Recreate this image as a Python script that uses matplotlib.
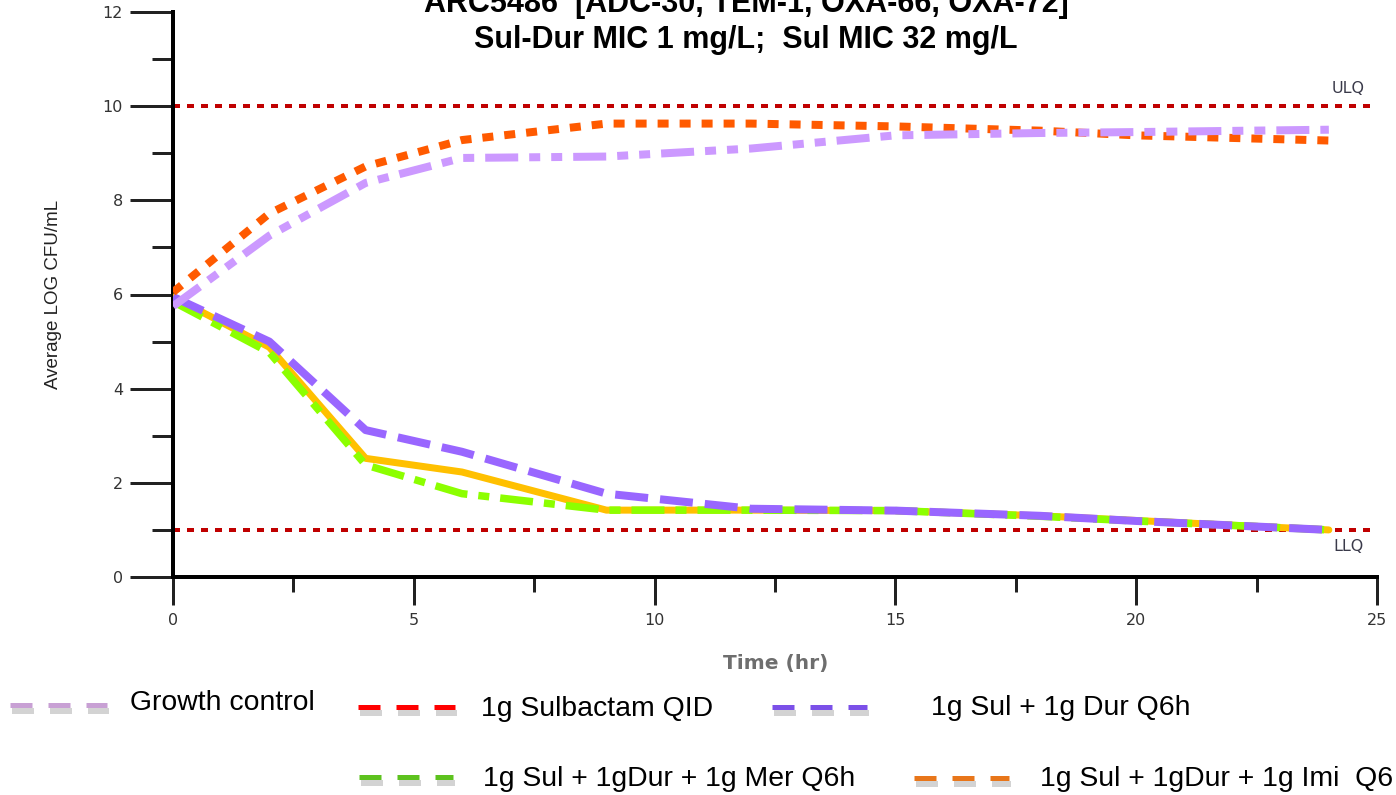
import matplotlib
matplotlib.use('Agg')
import matplotlib.pyplot as plt
from matplotlib.lines import Line2D
from matplotlib.ticker import MultipleLocator

plt.rcParams['lines.scale_dashes'] = False
plt.rcParams['font.family'] = ['Liberation Sans', 'DejaVu Sans']

# ---------------- data ----------------
time_hr = [0, 2, 4, 6, 9, 12, 15, 18, 20, 24]
growth_control = [5.75, 7.25, 8.37, 8.90, 8.93, 9.10, 9.38, 9.43, 9.45, 9.50]
sulbactam_qid = [6.05, 7.72, 8.72, 9.28, 9.63, 9.63, 9.57, 9.48, 9.38, 9.27]
sul_dur = [5.95, 5.00, 3.12, 2.66, 1.77, 1.45, 1.41, 1.30, 1.19, 1.00]
sul_dur_mer = [5.85, 4.77, 2.38, 1.77, 1.42, 1.42, 1.41, 1.29, 1.19, 1.00]
sul_dur_imi = [5.95, 4.88, 2.52, 2.23, 1.42, 1.42, 1.41, 1.30, 1.20, 1.00]
ulq_value = 10
llq_value = 1

legend_labels = ["Growth control", "1g Sulbactam QID", "1g Sul + 1g Dur Q6h",
                 "1g Sul + 1gDur + 1g Mer Q6h", "1g Sul + 1gDur + 1g Imi  Q6"]
title_lines = ["ARC5486  [ADC-30, TEM-1, OXA-66, OXA-72]",
               "Sul-Dur MIC 1 mg/L;  Sul MIC 32 mg/L"]

W, H = 1396, 795
DPI = 100
P = 72.0 / DPI  # points per pixel

fig = plt.figure(figsize=(W / DPI, H / DPI), dpi=DPI)
ax = fig.add_axes([173 / W, 1 - 577 / H, (1377 - 173) / W, (577 - 12) / H])

# limit lines
for v in (ulq_value, llq_value):
    ax.plot([0, 25], [v, v], color='#C00000', lw=4 * P, dashes=(7 * P, 7 * P),
            dash_capstyle='butt', zorder=2, clip_on=False)

# series
ax.plot(time_hr, sul_dur_imi, color='#FFC000', lw=7 * P, solid_joinstyle='round',
        solid_capstyle='round', zorder=3)
ax.plot(time_hr, sul_dur_mer, color='#8CFF00', lw=7.5 * P,
        dashes=(33 * P, 11 * P, 11 * P, 11 * P), dash_capstyle='butt', zorder=4)
ax.plot(time_hr, sul_dur, color='#9966FF', lw=8 * P,
        dashes=(33 * P, 12 * P), dash_capstyle='butt', zorder=5)
ax.plot(time_hr, sulbactam_qid, color='#FF5A00', lw=8 * P,
        dashes=(11 * P, 11 * P), dash_capstyle='butt', zorder=5)
ax.plot(time_hr, growth_control, color='#CC99FF', lw=8 * P,
        dashes=(33 * P, 11 * P, 11 * P, 11 * P, 11 * P, 11 * P),
        dash_capstyle='butt', zorder=6)

ax.text(24.4, 10.37, "ULQ", color='#3A3A4A', fontsize=11.5, ha='center', va='center',
        family='DejaVu Sans')
ax.text(24.4, 0.64, "LLQ", color='#3A3A4A', fontsize=11.5, ha='center', va='center',
        family='DejaVu Sans')

ax.set_xlim(0, 25)
ax.set_ylim(0, 12)
for s in ('top', 'right'):
    ax.spines[s].set_visible(False)
for s in ('left', 'bottom'):
    ax.spines[s].set_linewidth(4 * P)
    ax.spines[s].set_color('black')

ax.xaxis.set_major_locator(MultipleLocator(5))
ax.xaxis.set_minor_locator(MultipleLocator(2.5))
ax.yaxis.set_major_locator(MultipleLocator(2))
ax.yaxis.set_minor_locator(MultipleLocator(1))
ax.tick_params(axis='y', which='major', length=43 * P, width=3 * P, color='#222222',
               pad=5, labelsize=11.5, labelcolor='#333333', labelfontfamily='DejaVu Sans')
ax.tick_params(axis='y', which='minor', length=21 * P, width=3 * P, color='#222222')
ax.tick_params(axis='x', which='major', length=28 * P, width=3 * P, color='#222222',
               pad=6, labelsize=11.5, labelcolor='#333333', labelfontfamily='DejaVu Sans')
ax.tick_params(axis='x', which='minor', length=15 * P, width=3 * P, color='#222222')

# axis labels
fig.text(54 / W, 1 - 294 / H, "Average LOG CFU/mL", rotation=90, ha='center', va='center',
         fontsize=13.5, color='#222222', family=['Liberation Sans Narrow', 'Liberation Sans'])
fig.text(776 / W, 1 - 664 / H, "Time (hr)", ha='center', va='center', fontsize=14.5,
         fontweight='bold', color='#6E6E6E', family='DejaVu Sans')

# title
fig.text(746 / W, 1 - 12 / H, title_lines[0], ha='center', va='baseline', fontsize=22,
         fontweight='bold', color='black')
fig.text(746 / W, 1 - 48 / H, title_lines[1], ha='center', va='baseline', fontsize=22,
         fontweight='bold', color='black')

# custom legend
legend_items = [
    (10, 107, 705, '#C8A0D4', 130, 703, legend_labels[0]),
    (358, 455, 707, '#FF0000', 481, 709, legend_labels[1]),
    (772, 867, 707, '#7B50E8', 931, 708, legend_labels[2]),
    (359, 453, 777, '#5DC21E', 483, 779, legend_labels[3]),
    (914, 1009, 778, '#E8761A', 1040, 779, legend_labels[4]),
]
for x0, x1, y, col, tx, ty, lab in legend_items:
    fig.add_artist(Line2D([(x0 + 2) / W, (x1 + 2) / W], [1 - (y + 6) / H] * 2,
                          transform=fig.transFigure, color='#707070', alpha=0.3,
                          lw=6 * P, dashes=(22 * P, 16 * P), dash_capstyle='butt'))
    fig.add_artist(Line2D([x0 / W, x1 / W], [1 - y / H] * 2, transform=fig.transFigure,
                          color=col, lw=5 * P, dashes=(22 * P, 16 * P),
                          dash_capstyle='butt'))
    fig.text(tx / W, 1 - ty / H, lab, ha='left', va='center', fontsize=20.4, color='black')

fig.savefig('out.png', dpi=DPI)
